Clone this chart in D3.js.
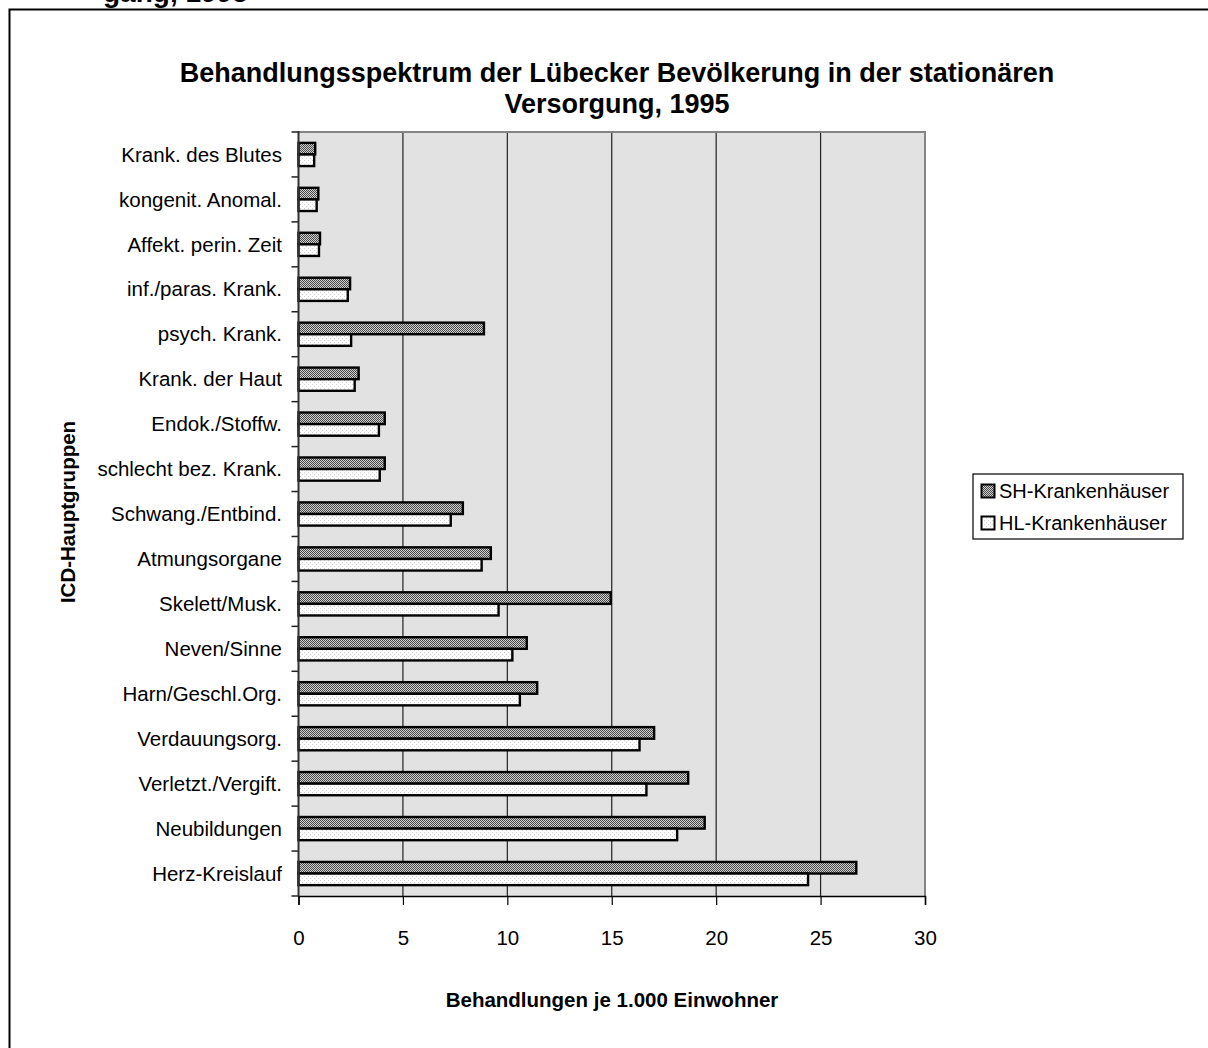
<!DOCTYPE html>
<html>
<head>
<meta charset="utf-8">
<script src="https://cdn.jsdelivr.net/npm/d3@7"></script>
<style>
  html, body { margin: 0; padding: 0; background: #fff; }
  svg { display: block; font-family: "Liberation Sans", Arial, sans-serif; }
</style>
</head>
<body>
<svg id="chart" width="1208" height="1048"></svg>
<script>
// ---- data ----
const categories = [
  "Krank. des Blutes", "kongenit. Anomal.", "Affekt. perin. Zeit", "inf./paras. Krank.",
  "psych. Krank.", "Krank. der Haut", "Endok./Stoffw.", "schlecht bez. Krank.",
  "Schwang./Entbind.", "Atmungsorgane", "Skelett/Musk.", "Neven/Sinne",
  "Harn/Geschl.Org.", "Verdauungsorg.", "Verletzt./Vergift.", "Neubildungen", "Herz-Kreislauf"
];
const shValues = [0.8, 0.95, 1.03, 2.47, 8.88, 2.88, 4.13, 4.13, 7.87, 9.21, 14.95, 10.93, 11.43, 17.03, 18.66, 19.45, 26.71];
const hlValues = [0.75, 0.87, 0.98, 2.36, 2.52, 2.69, 3.85, 3.89, 7.29, 8.77, 9.58, 10.24, 10.6, 16.33, 16.66, 18.13, 24.4];
const seriesNames = ["SH-Krankenhäuser", "HL-Krankenhäuser"];
const xTicks = [0, 5, 10, 15, 20, 25, 30];
const titleLines = ["Behandlungsspektrum der Lübecker Bevölkerung in der stationären", "Versorgung, 1995"];
const xTitle = "Behandlungen je 1.000 Einwohner";
const yTitle = "ICD-Hauptgruppen";

// ---- layout ----
const svg = d3.select("#chart");
const plot = { left: 298.5, right: 925, top: 132, bottom: 896 };

const x = d3.scaleLinear().domain([0, 30]).range([plot.left, plot.right]);
const y = d3.scaleBand().domain(categories).range([plot.top, plot.bottom]).paddingInner(0).paddingOuter(0);

// patterns
const defs = svg.append("defs");
const pSH = defs.append("pattern").attr("id", "patSH").attr("patternUnits", "userSpaceOnUse")
  .attr("width", 2).attr("height", 2);
pSH.append("rect").attr("width", 2).attr("height", 2).attr("fill", "#d0d0d0");
pSH.append("rect").attr("x", 0).attr("y", 0).attr("width", 1).attr("height", 1).attr("fill", "#484848");
pSH.append("rect").attr("x", 1).attr("y", 1).attr("width", 1).attr("height", 1).attr("fill", "#484848");

const pHL = defs.append("pattern").attr("id", "patHL").attr("patternUnits", "userSpaceOnUse")
  .attr("width", 4).attr("height", 4);
pHL.append("rect").attr("width", 4).attr("height", 4).attr("fill", "#ffffff");
pHL.append("rect").attr("x", 0).attr("y", 0).attr("width", 1).attr("height", 1).attr("fill", "#d0d0d0");
pHL.append("rect").attr("x", 2).attr("y", 2).attr("width", 1).attr("height", 1).attr("fill", "#d0d0d0");

// outer chart border (extends beyond the viewport)
svg.append("rect").attr("x", 9.5).attr("y", 9.5).attr("width", 1400).attr("height", 1200)
  .attr("fill", "none").attr("stroke", "#000").attr("stroke-width", 2);

// clipped heading above the chart
svg.append("text").attr("x", 103).attr("y", 1.5)
  .attr("font-size", 28).attr("font-weight", "bold").attr("fill", "#000")
  .text("gang, 1995");

// chart title
svg.append("g").selectAll("text").data(titleLines).join("text")
  .attr("x", 617).attr("y", (d, i) => 82 + i * 31)
  .attr("text-anchor", "middle").attr("font-size", 27).attr("font-weight", "bold")
  .text(d => d);

// plot background
svg.append("rect").attr("x", plot.left).attr("y", plot.top)
  .attr("width", plot.right - plot.left).attr("height", plot.bottom - plot.top)
  .attr("fill", "#e2e2e2");

// gridlines
svg.append("g").selectAll("line").data(xTicks.filter(t => t > 0 && t < 30)).join("line")
  .attr("x1", d => x(d)).attr("x2", d => x(d))
  .attr("y1", plot.top).attr("y2", plot.bottom)
  .attr("stroke", "#222").attr("stroke-width", 1.2);

// top and right plot border
svg.append("path")
  .attr("d", `M${plot.left},${plot.top}H${plot.right}V${plot.bottom}`)
  .attr("fill", "none").attr("stroke", "#858585").attr("stroke-width", 2);

// bars
const barH = 11.6;
const gBars = svg.append("g");
categories.forEach((c, i) => {
  const cy = y(c) + y.bandwidth() / 2;
  gBars.append("rect")
    .attr("x", x(0)).attr("y", cy - barH)
    .attr("width", x(shValues[i]) - x(0)).attr("height", barH)
    .attr("fill", "url(#patSH)").attr("stroke", "#000").attr("stroke-width", 2.4);
  gBars.append("rect")
    .attr("x", x(0)).attr("y", cy)
    .attr("width", x(hlValues[i]) - x(0)).attr("height", barH)
    .attr("fill", "url(#patHL)").attr("stroke", "#000").attr("stroke-width", 2.4);
});

// y axis (category axis) with ticks at band boundaries
const boundaries = categories.map(c => y(c)).concat([plot.bottom]);
const gY = svg.append("g");
gY.selectAll("line.tick").data(boundaries).join("line")
  .attr("class", "tick")
  .attr("x1", plot.left - 7).attr("x2", plot.left)
  .attr("y1", d => d).attr("y2", d => d)
  .attr("stroke", "#222").attr("stroke-width", 1.5);
gY.append("line").attr("x1", plot.left).attr("x2", plot.left)
  .attr("y1", plot.top - 1).attr("y2", plot.bottom)
  .attr("stroke", "#333").attr("stroke-width", 2);
gY.selectAll("text").data(categories).join("text")
  .attr("x", 282).attr("y", d => y(d) + y.bandwidth() / 2)
  .attr("dy", "0.35em").attr("text-anchor", "end").attr("font-size", 20.5)
  .text(d => d);

// x axis
const xAxis = d3.axisBottom(x).tickValues(xTicks).tickSize(9).tickPadding(25).tickFormat(d3.format("d"));
const gX = svg.append("g").attr("transform", `translate(0,${plot.bottom})`).call(xAxis);
gX.select(".domain").attr("stroke", "#000").attr("stroke-width", 1.5);
gX.selectAll(".tick line").attr("stroke", "#000").attr("stroke-width", 1.2);
gX.selectAll(".tick text").attr("font-size", 20.5).attr("fill", "#000")
  .attr("font-family", "'Liberation Sans', Arial, sans-serif");

// axis titles
svg.append("text").attr("x", 612).attr("y", 1007)
  .attr("text-anchor", "middle").attr("font-size", 20.5).attr("font-weight", "bold")
  .text(xTitle);
svg.append("text").attr("transform", "translate(75,512) rotate(-90)")
  .attr("text-anchor", "middle").attr("font-size", 20.5).attr("font-weight", "bold")
  .text(yTitle);

// legend
const lg = svg.append("g");
lg.append("rect").attr("x", 973).attr("y", 474).attr("width", 210).attr("height", 65)
  .attr("fill", "#fff").attr("stroke", "#000").attr("stroke-width", 1.2);
const legendFills = ["url(#patSH)", "url(#patHL)"];
seriesNames.forEach((n, i) => {
  const yy = 491 + i * 32;
  lg.append("rect").attr("x", 981.5).attr("y", yy - 6.5).attr("width", 13).attr("height", 13)
    .attr("fill", legendFills[i]).attr("stroke", "#000").attr("stroke-width", 2);
  lg.append("text").attr("x", 999).attr("y", yy).attr("dy", "0.35em")
    .attr("font-size", 20).text(n);
});
</script>
</body>
</html>
